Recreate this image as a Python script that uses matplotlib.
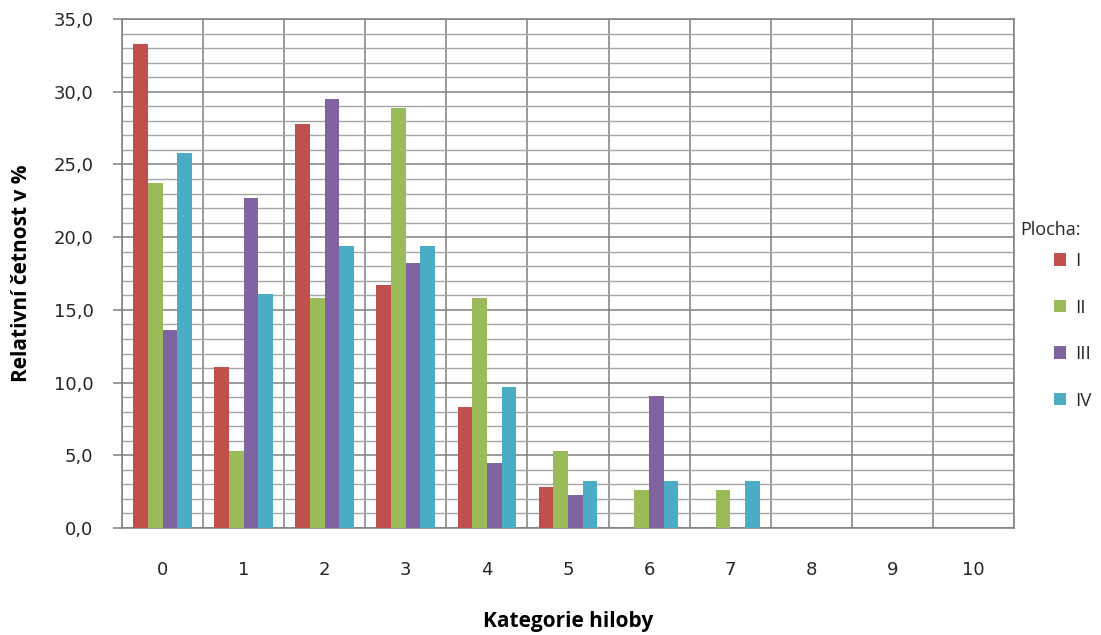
import numpy as np
import matplotlib
matplotlib.use("Agg")
import matplotlib.pyplot as plt
from matplotlib.ticker import MultipleLocator, FixedLocator, FuncFormatter
from matplotlib.patches import Patch

# Relative frequency (%) of trees per category, for each plot
categories = ["0", "1", "2", "3", "4", "5", "6", "7", "8", "9", "10"]
series_names = ["I", "II", "III", "IV"]
plocha_I = [33.3, 11.1, 27.8, 16.7, 8.3, 2.8, 0.0, 0.0, 0.0, 0.0, 0.0]
plocha_II = [23.7, 5.3, 15.8, 28.9, 15.8, 5.3, 2.6, 2.6, 0.0, 0.0, 0.0]
plocha_III = [13.6, 22.7, 29.5, 18.2, 4.5, 2.3, 9.1, 0.0, 0.0, 0.0, 0.0]
plocha_IV = [25.8, 16.1, 19.4, 19.4, 9.7, 3.2, 3.2, 3.2, 0.0, 0.0, 0.0]
colors = ["#C0504D", "#9BBB59", "#8064A2", "#4BACC6"]

fig = plt.figure(figsize=(11.01, 6.35), dpi=100)
ax = fig.add_axes([0.1108, 0.1685, 0.8102, 0.8015])

x = np.arange(len(categories))
bar_w = 0.181
all_series = [plocha_I, plocha_II, plocha_III, plocha_IV]
for i, (vals, col) in enumerate(zip(all_series, colors)):
    offset = (i - 1.5) * bar_w
    ax.bar(x + offset, vals, width=bar_w, color=col, zorder=3, linewidth=0)

ax.set_xlim(-0.5, len(categories) - 0.5)
ax.set_ylim(0, 35)

# y axis: major every 5, minor every 1
ax.yaxis.set_major_locator(MultipleLocator(5))
ax.yaxis.set_minor_locator(MultipleLocator(1))
ax.yaxis.set_major_formatter(FuncFormatter(lambda v, p: f"{v:.1f}".replace(".", ",")))

# x axis: labels at category centres, grid lines at category boundaries
ax.set_xticks(x)
ax.set_xticklabels(categories)
ax.xaxis.set_minor_locator(FixedLocator(np.arange(len(categories) + 1) - 0.5))

ax.grid(which="major", axis="y", color="#7f7f7f", linewidth=1.1, zorder=0)
ax.grid(which="minor", axis="y", color="#a6a6a6", linewidth=1.0, zorder=0)
ax.grid(which="minor", axis="x", color="#7f7f7f", linewidth=1.1, zorder=0)
ax.set_axisbelow(True)

ax.tick_params(axis="y", which="major", length=6.5, width=1.1, color="#7f7f7f",
               labelsize=13, pad=14, labelcolor="#262626")
ax.tick_params(axis="y", which="minor", length=0)
ax.tick_params(axis="x", which="both", length=0, labelsize=13, pad=24,
               labelcolor="#262626")
for lab in ax.get_yticklabels() + ax.get_xticklabels():
    lab.set_family("DejaVu Sans")

for sp in ax.spines.values():
    sp.set_color("#7f7f7f")
    sp.set_linewidth(1.1)

ax.set_ylabel("Relativní četnost v %", fontsize=15, fontweight="bold",
              family="Open Sans")
ax.yaxis.set_label_coords(-0.101, 0.5)
ax.set_xlabel("Kategorie hiloby", fontsize=15, fontweight="bold",
              family="Open Sans", va="center")
ax.xaxis.set_label_coords(0.5, -0.184)

# Legend
handles = [Patch(facecolor=c, edgecolor="none") for c in colors]
fig.text(1020 / 1101, 1 - 230 / 635, "Plocha:", fontsize=13, family="Open Sans",
         color="#262626", va="center", ha="left")
leg = fig.legend(handles, series_names, loc="upper left",
                 bbox_to_anchor=(1054 / 1101, 1 - 252 / 635), frameon=False,
                 borderpad=0, borderaxespad=0,
                 handlelength=0.64, handleheight=0.64, handletextpad=0.5,
                 labelspacing=1.52, prop={"family": "Open Sans", "size": 13.5})
for t in leg.get_texts():
    t.set_color("#262626")

fig.savefig("out.png", dpi=100, facecolor="white")
